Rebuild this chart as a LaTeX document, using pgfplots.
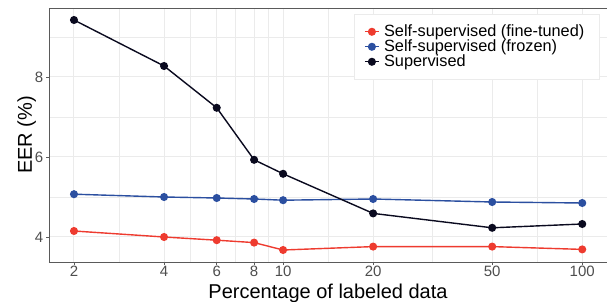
\documentclass[border=0pt]{standalone}
\usepackage{fontspec}
\setmainfont{Liberation Sans}
\usepackage{pgfplots}
\pgfplotsset{compat=1.18}
\definecolor{cred}{HTML}{EE3B2F}
\definecolor{cblue}{HTML}{2B4FA0}
\definecolor{cblack}{HTML}{0A0A1F}
\definecolor{gridc}{HTML}{EBEBEB}
\definecolor{axc}{HTML}{5A5A5A}
\definecolor{tickc}{HTML}{4D4D4D}
\begin{document}
\begin{tikzpicture}
\path[use as bounding box] (-49bp,-40bp) rectangle (559bp,262bp);
\begin{axis}[
  at={(0,0)}, anchor=south west,
  scale only axis, width=558bp, height=254bp,
  xmode=log, xmin=1.65, xmax=121, ymin=3.375, ymax=9.725,
  axis x line*=box, axis y line*=left,
  axis line style={axc, line width=0.9bp},
  xtick pos=lower, ytick pos=left,
  tick align=outside, major tick length=3bp,
  tick style={axc, line width=0.8bp},
  minor tick length=0pt,
  xtick={2,4,6,8,10,20,50,100},
  xticklabels={2,4,6,8,10,20,50,100},
  minor xtick={2.828,4.899,6.928,8.944,14.142,31.623,70.711},
  ytick={4,6,8},
  minor ytick={5,7,9},
  grid=both,
  major grid style={gridc, line width=1bp},
  minor grid style={gridc, line width=0.6bp},
  /pgf/number format/assume math mode=true,
  ticklabel style={font=\fontsize{15bp}{15bp}\selectfont, text=tickc},
  xticklabel style={inner sep=1bp},
  yticklabel style={inner sep=2.5bp},
  xlabel={Percentage of labeled data},
  ylabel={EER (\%)},
  label style={font=\fontsize{20bp}{20bp}\selectfont},
  xlabel style={at={(axis description cs:0.5,0)}, anchor=base, yshift=-36bp},
  ylabel style={at={(axis description cs:-0.0305,0.5)}, anchor=base},
  legend style={at={(axis description cs:0.9857,0.976)}, anchor=north east,
    draw=gridc, fill=white, inner xsep=10bp, inner ysep=10bp,
    font=\fontsize{16.3bp}{16bp}\selectfont,
    nodes={inner ysep=0pt, inner xsep=4.5bp, text height=11.8bp, text depth=3.2bp}},
  legend cell align=left,
  legend image code/.code={\draw[mark repeat=2,mark phase=2] plot coordinates {(0bp,0bp)(7bp,0bp)(14bp,0bp)};},
  every axis plot/.append style={line width=1.4bp, mark=*, mark size=3.3bp},
]
\addplot[cred, mark options={fill=cred, draw=cred}] coordinates {
(2,4.15) (4,4.00) (6,3.92) (8,3.86) (10,3.675) (20,3.76) (50,3.76) (100,3.69)};
\addlegendentry{Self-supervised (fine-tuned)}
\addplot[cblue, mark options={fill=cblue, draw=cblue}] coordinates {
(2,5.07) (4,5.00) (6,4.975) (8,4.95) (10,4.92) (20,4.95) (50,4.875) (100,4.85)};
\addlegendentry{Self-supervised (frozen)}
\addplot[cblack, mark options={fill=cblack, draw=cblack}] coordinates {
(2,9.425) (4,8.275) (6,7.23) (8,5.93) (10,5.58) (20,4.59) (50,4.23) (100,4.325)};
\addlegendentry{Supervised}
\end{axis}
\end{tikzpicture}
\end{document}
